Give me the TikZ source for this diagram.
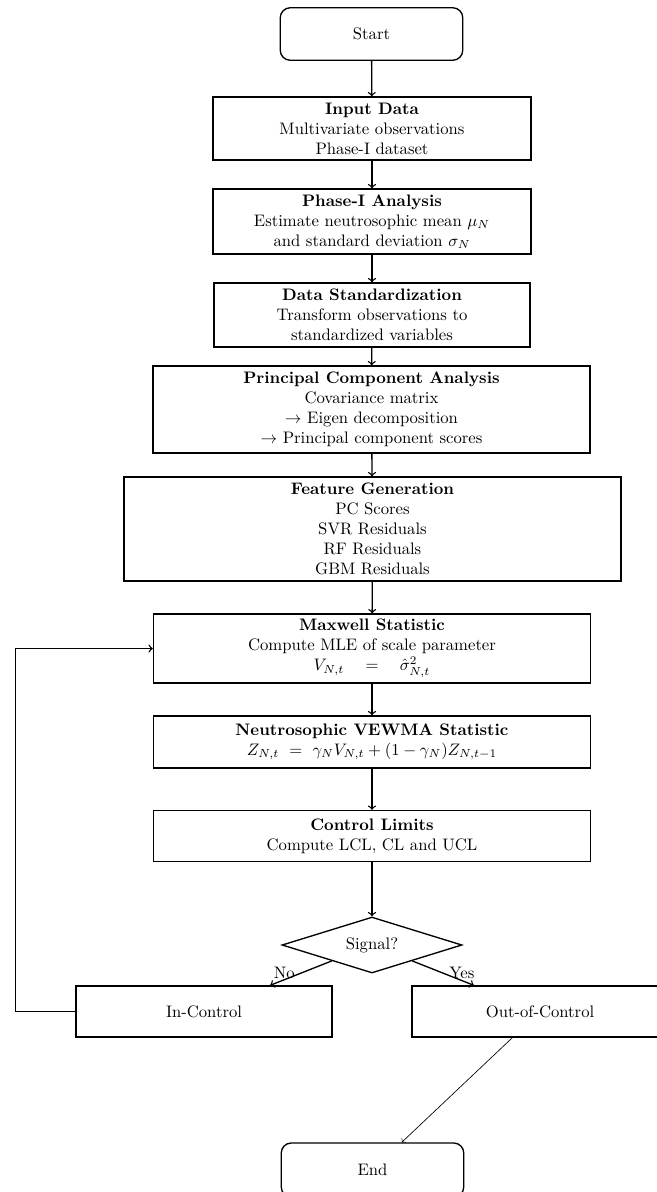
\documentclass[tikz,border=0pt]{standalone}
\usetikzlibrary{shapes.geometric}

\begin{document}
\begin{tikzpicture}[x=0.6pt, y=-0.6pt,
    box/.style={rectangle, draw, thick, align=center, inner sep=1pt, minimum height=#1},
    box/.default=31pt,
    term/.style={rectangle, rounded corners=6pt, draw, thick, minimum width=109.5pt, minimum height=31.5pt},
    decision/.style={diamond, draw, thick, aspect=3.2, inner sep=1pt, minimum width=108pt, minimum height=33.6pt}]
        \useasboundingbox (0, 0) rectangle (657, 1192);

        % Nodes
        \node[term] at (371.5, 34) (start) {Start};
        \node[box=37.8pt, minimum width=190.8pt] at (372, 128.5) (input)
            {\textbf{Input Data}\\ Multivariate observations\\ Phase-I dataset};
        \node[box=39pt, minimum width=190.8pt] at (372, 221.5) (phase)
            {\textbf{Phase-I Analysis}\\ Estimate neutrosophic mean $\mu_N$\\ and standard deviation $\sigma_N$};
        \node[box=38.4pt, minimum width=189.6pt] at (372, 315) (std)
            {\textbf{Data Standardization}\\ Transform observations to\\ standardized variables};
        \node[box=52.2pt, minimum width=262.2pt] at (371.5, 409.5) (pca)
            {\textbf{Principal Component Analysis}\\ Covariance matrix\\ $\rightarrow$ Eigen decomposition\\ $\rightarrow$ Principal component scores};
        \node[box=62.4pt, minimum width=298.2pt] at (372.5, 529) (feat)
            {\textbf{Feature Generation}\\ PC Scores\\ SVR Residuals\\ RF Residuals\\ GBM Residuals};
        \node[box=41.4pt, minimum width=262.2pt] at (372, 648.5) (maxw)
            {\textbf{Maxwell Statistic}\\ Compute MLE of scale parameter\\ $V_{N,t} \quad = \quad \hat{\sigma}^{2}_{N,t}$};
        \node[box=31.2pt, minimum width=262.2pt] at (372, 742) (vewma)
            {\textbf{Neutrosophic VEWMA Statistic}\\ $Z_{N,t} \ = \ \gamma_N V_{N,t} + (1-\gamma_N) Z_{N,t-1}$};
        \node[box=30.6pt, minimum width=262.2pt] at (372, 836) (limits)
            {\textbf{Control Limits}\\ Compute LCL, CL and UCL};
        \node[decision] at (372, 945) (signal) {Signal?};
        \node[box=30.6pt, minimum width=153.6pt] at (204, 1011.5) (inctrl) {In-Control};
        \node[box=30.6pt, minimum width=153.6pt] at (540, 1011.5) (outctrl) {Out-of-Control};
        \node[term, minimum height=32.4pt] at (372.5, 1170) (end) {End};


        \draw[->, thick]  (start) -- (input);
        \draw[->, thick]  (input) -- (phase);
        \draw[->, thick]  (phase) -- (std);
        \draw[->, thick]  (std) -- (pca);
        \draw[->, thick]  (pca) -- (feat);
        \draw[->, thick]  (feat) -- (maxw);
        \draw[->, thick]  (maxw) -- (vewma);
        \draw[->, thick]  (vewma) -- (limits);
        \draw[->, thick]  (limits) -- (signal);

        \draw[->, thick]  (signal) -- node[left] {No} (inctrl);
        \draw[->, thick]  (signal) -- node[right] {Yes} (outctrl);

        \draw[->, thick]  (inctrl.west) -- ++(-60, 0) |- (maxw.west);
        \draw[->]  (outctrl) -- (end);
    \end{tikzpicture}
\end{document}
